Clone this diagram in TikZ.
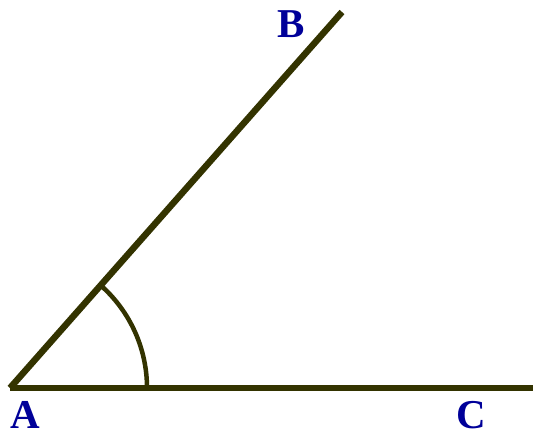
\documentclass[tikz,border=0pt]{standalone}
\usepackage{fontspec}
\setmainfont{Liberation Serif}
\definecolor{linecol}{HTML}{333300}
\definecolor{labcol}{HTML}{000099}
\begin{document}
\begin{tikzpicture}[x=1pt,y=-1pt,
  ray/.style={draw=linecol,line width=6.5pt},
  arcline/.style={draw=linecol,line width=4.5pt},
  lab/.style={text=labcol,font=\fontsize{41}{41}\selectfont\bfseries,inner sep=0pt,anchor=base}]
\useasboundingbox (0,0) rectangle (533,437);
\coordinate (A) at (10,388);
\coordinate (B) at (342,12);
\coordinate (C) at (533,388);
\draw[ray] (A) -- (B);
\draw[ray] (A) -- (C);
\draw[arcline] (147,388) arc[start angle=0,end angle=-48.5,radius=137];
\node[lab] (la) at (25,428) {A};
\node[lab] (lb) at (291,37) {B};
\node[lab] (lc) at (471,428) {C};
\end{tikzpicture}
\end{document}
